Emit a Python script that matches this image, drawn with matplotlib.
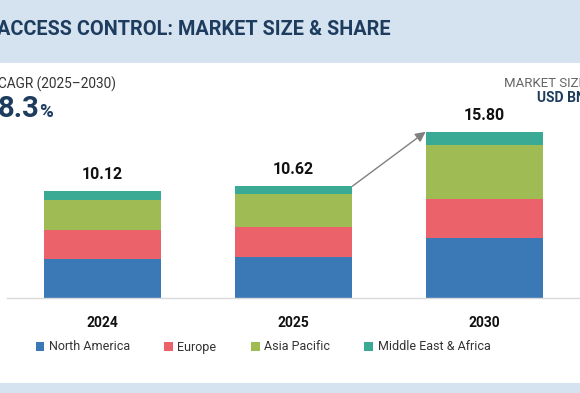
import matplotlib
matplotlib.use("Agg")
import matplotlib.pyplot as plt
from matplotlib.patches import Rectangle, Patch

years = ["2024", "2025", "2030"]
totals = [10.12, 10.62, 15.80]
north_america = [3.65, 3.83, 5.70]
europe = [2.78, 2.87, 3.70]
asia_pacific = [2.88, 3.13, 5.12]
mea = [0.81, 0.79, 1.28]
series_names = ["North America", "Europe", "Asia Pacific", "Middle East & Africa"]
colors = ["#3b78b6", "#ec626b", "#9fbb54", "#3aaa95"]

plt.rcParams['font.family'] = ['Roboto', 'DejaVu Sans']

W, H = 580, 393
fig = plt.figure(figsize=(W / 100, H / 100), dpi=100)
fig.patch.set_facecolor("white")

# header and footer bands
fig.add_artist(Rectangle((0, 1 - 63 / H), 1, 63 / H, transform=fig.transFigure,
                         facecolor="#d5e3f1", edgecolor="none", zorder=0))
fig.add_artist(Rectangle((0, 0), 1, 10.5 / H, transform=fig.transFigure,
                         facecolor="#d5e3f1", edgecolor="none", zorder=0))

navy = "#1d3c5e"
fig.text(-3 / W, 1 - 35 / H, "ACCESS CONTROL: MARKET SIZE & SHARE", fontsize=14.3,
         fontweight="bold", color=navy, ha="left", va="baseline")
fig.text(-2 / W, 1 - 89 / H, "CAGR (2025\u20132030)", fontsize=9.8, color="#333333",
         ha="left", va="baseline")
fig.text(-2 / W, 1 - 117 / H, "8.3", fontsize=21, fontweight="bold", color=navy,
         ha="left", va="baseline")
fig.text(39.5 / W, 1 - 117 / H, "%", fontsize=13.5, fontweight="bold", color=navy,
         ha="left", va="baseline")
fig.text(586 / W, 1 - 87 / H, "MARKET SIZE", fontsize=9.5, color="#666666",
         ha="right", va="baseline")
fig.text(586 / W, 1 - 102 / H, "USD BN", fontsize=10, fontweight="bold", color=navy,
         ha="right", va="baseline")

# axes
left_px, right_px = 7, 580
base_px, top_px = 297.7, 70
ax = fig.add_axes([left_px / W, (H - base_px) / H, (right_px - left_px) / W,
                   (base_px - top_px) / H])
ppu = 10.5
ax.set_xlim(-0.5, 2.5)
ax.set_ylim(0, (base_px - top_px) / ppu)
ax.patch.set_alpha(0)
for s in ["top", "right", "left"]:
    ax.spines[s].set_visible(False)
ax.spines["bottom"].set_color("#d9d9d9")
ax.spines["bottom"].set_linewidth(1)
ax.set_yticks([])

x = list(range(len(years)))
bw = 0.617
bottom = [0.0] * 3
for vals, c in zip([north_america, europe, asia_pacific, mea], colors):
    ax.bar(x, vals, bw, bottom=bottom, color=c, edgecolor="none")
    bottom = [b + v for b, v in zip(bottom, vals)]

for xi, tot in zip(x, totals):
    ax.annotate(f"{tot:.2f}", (xi, tot), xytext=(0, 6.5), textcoords="offset points",
                ha="center", va="bottom", fontsize=11.5, fontweight="bold", color="#111111")

ax.set_xticks(x)
ax.set_xticklabels(years, fontsize=10, fontweight="bold", color="#111111")
ax.tick_params(axis="x", length=0, pad=13)

ax.annotate("", xy=(2 - bw / 2, totals[2]), xytext=(1 + bw / 2, totals[1]),
            arrowprops=dict(arrowstyle="-|>,head_length=0.6,head_width=0.3",
                            color="#808080", lw=1, shrinkA=0, shrinkB=0))

handles = [Patch(facecolor=c, edgecolor="none", label=n) for c, n in zip(colors, series_names)]
fig.legend(handles=handles, loc="center", bbox_to_anchor=(263 / W, 1 - 347 / H), ncol=4,
           frameon=False, fontsize=9.0, handlelength=0.7, handleheight=0.7,
           handletextpad=0.35, columnspacing=2.75, labelcolor="#333333")

fig.savefig("out.png", dpi=100)
